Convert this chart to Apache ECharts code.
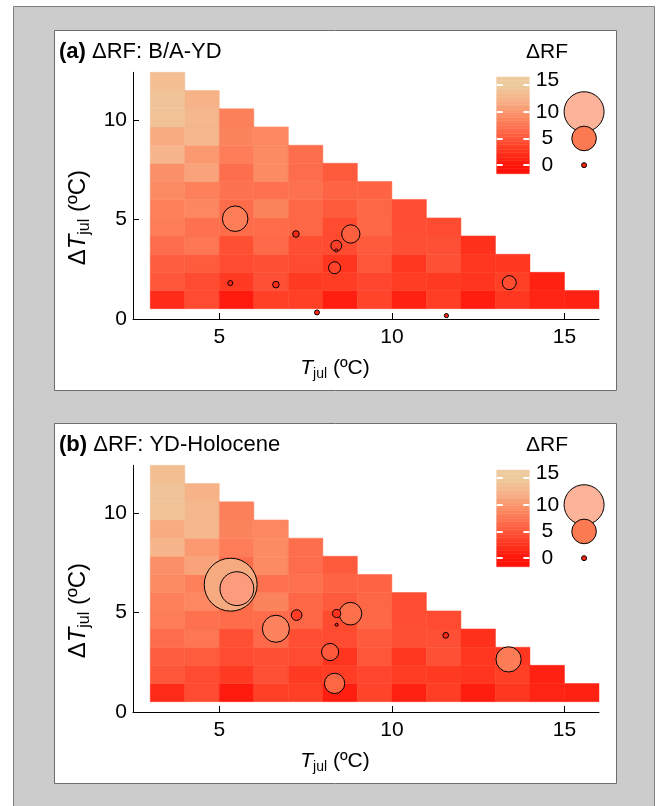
<!DOCTYPE html>
<html>
<head>
<meta charset="UTF-8">
<script src="https://cdn.jsdelivr.net/npm/echarts@6/dist/echarts.min.js"></script>
<style>
  html, body, #chart { width: 100%; height: 100%; margin: 0; padding: 0; overflow: hidden; background: #fff; }
</style>
</head>
<body>
<div id="chart"></div>
<script>
// Tjul bin edges (columns) and dTjul bin edges (rows)
const tjulEdges = [3, 4, 5, 6, 7, 8, 9, 10, 11, 12, 13, 14, 15, 16];
const dtEdges = [0.52, 1.43, 2.35, 3.26, 4.18, 5.09, 6.01, 6.92, 7.84, 8.75, 9.67, 10.58, 11.5, 12.42];
// modelled dRF for each Tjul column, rows from the bottom up
const rfModel = [
  [1.8, 5.0, 5.6, 6.7, 8.0, 8.2, 9.0, 9.5, 12.5, 11.5, 14.0, 14.2, 13.5],
  [4.2, 4.2, 5.4, 7.5, 7.0, 8.8, 8.2, 11.0, 10.2, 12.8, 12.8, 12.3],
  [0.5, 3.0, 4.3, 4.5, 6.6, 6.7, 7.1, 6.8, 8.0, 8.5, 8.3],
  [3.4, 4.6, 4.5, 6.5, 6.6, 8.5, 7.0, 9.0, 9.0, 8.8],
  [3.4, 3.0, 4.2, 4.4, 6.2, 6.2, 7.0, 6.7, 6.8],
  [0.8, 3.2, 2.6, 4.2, 4.2, 5.3, 6.0, 5.3],
  [3.7, 3.8, 5.0, 5.3, 6.3, 6.2, 6.0],
  [1.0, 3.2, 2.7, 4.5, 4.4, 4.4],
  [3.3, 3.0, 4.6, 4.6, 4.3],
  [0.7, 2.6, 2.7, 2.3],
  [2.7, 3.4, 2.7],
  [1.3, 1.0],
  [1.1]
];
// sites: [Tjul, dTjul, dRF]
const sitesA = [
  [5.46, 5.05, 5.3], [7.22, 4.28, 0.4], [8.81, 4.28, 3.4], [8.39, 3.69, 1.5],
  [8.39, 3.45, -0.5], [8.34, 2.58, 1.8], [5.32, 1.81, 0], [6.64, 1.73, 0.4],
  [7.83, 0.33, 0], [13.40, 1.83, 2.3], [11.58, 0.17, -0.2]
];
const sitesB = [
  [5.33, 6.41, 14.2], [5.51, 6.21, 8.0], [6.64, 4.19, 5.8], [8.80, 4.95, 4.5],
  [7.24, 4.88, 1.45], [8.40, 4.96, 0.8], [8.40, 4.39, -0.5], [8.21, 3.02, 3.1],
  [8.34, 1.44, 3.9], [11.56, 3.86, 0.2], [13.38, 2.65, 5.2]
];
const legendRF = [10, 5, 0];
const barTicks = [0, 5, 10, 15];
const xTicks = [5, 10, 15];
const yTicks = [0, 5, 10];
const panelTitles = [['(a)', ' ΔRF: B/A-YD'], ['(b)', ' ΔRF: YD-Holocene']];

const FONT = 'Liberation Sans, Arial, sans-serif';
const cellColors = ['#ff140a', '#ff3a22', '#fe6444', '#fc8a62', '#f7b086', '#eecb9e'];
const dotColors = ['#ff2414', '#fc7a52', '#fcb39a', '#f5a87a'];

const cells = [];
rfModel.forEach((col, i) => {
  col.forEach((v, j) => {
    cells.push([tjulEdges[i], dtEdges[j], tjulEdges[i + 1], dtEdges[j + 1], v]);
  });
});
// colour bar bands, drawn through the legend axis
const bar = [];
for (let y = -1.6; y < 16.5; y += 0.5) {
  bar.push([0, y, 1, Math.min(y + 0.5, 16.5), y + 0.25]);
}

function rectItem(params, api) {
  const p0 = api.coord([api.value(0), api.value(1)]);
  const p1 = api.coord([api.value(2), api.value(3)]);
  const c = api.visual('color');
  return {
    type: 'rect',
    shape: { x: p0[0], y: p1[1], width: p1[0] - p0[0], height: p0[1] - p1[1] },
    style: { fill: c, stroke: c, lineWidth: 0.5 }
  };
}

function dotSize(d) {
  const v = d[2];
  if (v <= 5) return Math.max(3, 5 + 3.92 * v);
  return 24.6 + 3.08 * (v - 5);
}

const grids = [], xAxes = [], yAxes = [], series = [], titles = [];
const heatIdx = [], dotIdx = [];
[sitesA, sitesB].forEach((sites, p) => {
  const dy = p * 393;
  grids.push({ left: 133, top: 72.3 + dy, width: 466, height: 246.7 });
  grids.push({ left: 496.7, top: 77 + dy, width: 97.8, height: 96.7 });
  const g = p * 2, lg = p * 2 + 1;

  xAxes.push({
    gridIndex: g, type: 'value', min: 2.5, max: 16,
    axisLine: { lineStyle: { color: '#000', width: 1 } },
    axisTick: { inside: true, length: 6, customValues: xTicks, lineStyle: { color: '#000' } },
    axisLabel: { customValues: xTicks, fontSize: 21, color: '#000', fontFamily: FONT, margin: 8 },
    splitLine: { show: false },
    name: '{i|T}{s|jul} (ºC)', nameLocation: 'middle', nameGap: 36,
    nameTextStyle: {
      fontSize: 21, color: '#000', fontFamily: FONT, lineHeight: 26, padding: [0, 62, 0, 0],
      rich: {
        i: { fontStyle: 'italic', fontSize: 21, fontFamily: FONT, lineHeight: 26 },
        s: { fontSize: 14, fontFamily: FONT, lineHeight: 10, verticalAlign: 'bottom' }
      }
    }
  });
  yAxes.push({
    gridIndex: g, type: 'value', min: 0, max: 12.42,
    axisLine: { lineStyle: { color: '#000', width: 1 } },
    axisTick: { inside: true, length: 6, customValues: yTicks, lineStyle: { color: '#000' } },
    axisLabel: { customValues: yTicks, fontSize: 21, color: '#000', fontFamily: FONT, margin: 6 },
    splitLine: { show: false },
    name: 'Δ{i|T}{s|jul} (ºC)', nameLocation: 'middle', nameGap: 40,
    nameTextStyle: {
      fontSize: 24, color: '#000', fontFamily: FONT, lineHeight: 28, padding: [0, 44, 0, 0],
      rich: {
        i: { fontStyle: 'italic', fontSize: 24, fontFamily: FONT, lineHeight: 28 },
        s: { fontSize: 16, fontFamily: FONT, lineHeight: 10, verticalAlign: 'bottom' }
      }
    }
  });

  // legend axes
  xAxes.push({ gridIndex: lg, type: 'value', min: 0, max: 3, show: false });
  yAxes.push({
    gridIndex: lg, type: 'value', min: -1.6, max: 16.5, z: 5,
    axisLine: { show: false },
    axisTick: { inside: true, length: 6, customValues: barTicks, lineStyle: { color: '#fff', width: 2 } },
    axisLabel: { show: false },
    splitLine: { show: false }
  });
  yAxes.push({
    gridIndex: lg, type: 'value', min: -1.6, max: 16.5, position: 'right', offset: -65.1, z: 5,
    axisLine: { show: false },
    axisTick: { inside: true, length: 6, customValues: barTicks, lineStyle: { color: '#fff', width: 2 } },
    axisLabel: {
      customValues: barTicks, fontSize: 21, color: '#000', fontFamily: FONT, margin: 18, align: 'center',
      formatter: v => (v === 15 ? '{t|15}' : String(v)),
      rich: { t: { fontSize: 21, color: '#000', fontFamily: FONT, padding: [0, 0, 10, 0] } }
    },
    splitLine: { show: false }
  });

  const yBase = p * 3;
  heatIdx.push(series.length);
  series.push({ type: 'custom', xAxisIndex: g, yAxisIndex: yBase, data: cells, renderItem: rectItem, z: 2, silent: true });
  heatIdx.push(series.length);
  series.push({ type: 'custom', xAxisIndex: lg, yAxisIndex: yBase + 1, data: bar, renderItem: rectItem, z: 2, silent: true });
  dotIdx.push(series.length);
  series.push({
    type: 'scatter', xAxisIndex: g, yAxisIndex: yBase, data: sites, symbolSize: dotSize, z: 4,
    itemStyle: { borderColor: '#000', borderWidth: 1, opacity: 1 }
  });
  dotIdx.push(series.length);
  series.push({
    type: 'scatter', xAxisIndex: lg, yAxisIndex: yBase + 1, data: legendRF.map(v => [2.68, v, v]),
    symbolSize: dotSize, z: 4,
    itemStyle: { borderColor: '#000', borderWidth: 1, opacity: 1 }
  });

  titles.push({
    left: 59, top: 41 + dy, padding: 0,
    text: '{b|' + panelTitles[p][0] + '}' + panelTitles[p][1],
    textStyle: {
      fontSize: 22, fontWeight: 'normal', color: '#000', fontFamily: FONT,
      rich: { b: { fontSize: 22, fontWeight: 'bold', color: '#000', fontFamily: FONT } }
    }
  });
  titles.push({
    left: 547, top: 42 + dy, padding: 0, textAlign: 'center', text: 'ΔRF',
    textStyle: { fontSize: 21, fontWeight: 'normal', color: '#000', fontFamily: FONT }
  });
});

const chart = echarts.init(document.getElementById('chart'));
chart.setOption({
  animation: false,
  backgroundColor: '#fff',
  title: titles,
  grid: grids,
  xAxis: xAxes,
  yAxis: yAxes,
  visualMap: [
    { show: false, type: 'continuous', min: 0, max: 15, dimension: 4, seriesIndex: heatIdx, inRange: { color: cellColors } },
    { show: false, type: 'continuous', min: 0, max: 15, dimension: 2, seriesIndex: dotIdx, inRange: { color: dotColors } }
  ],
  graphic: [
    { type: 'rect', z: -10, shape: { x: 13.5, y: 6.5, width: 641, height: 820 }, style: { fill: '#cccccc', stroke: '#808080', lineWidth: 1 } },
    { type: 'rect', z: -9, shape: { x: 54.5, y: 30.5, width: 562, height: 360 }, style: { fill: '#fff', stroke: '#6e6e6e', lineWidth: 1 } },
    { type: 'rect', z: -9, shape: { x: 54.5, y: 423.5, width: 562, height: 360 }, style: { fill: '#fff', stroke: '#6e6e6e', lineWidth: 1 } }
  ],
  series: series
});
</script>
</body>
</html>
